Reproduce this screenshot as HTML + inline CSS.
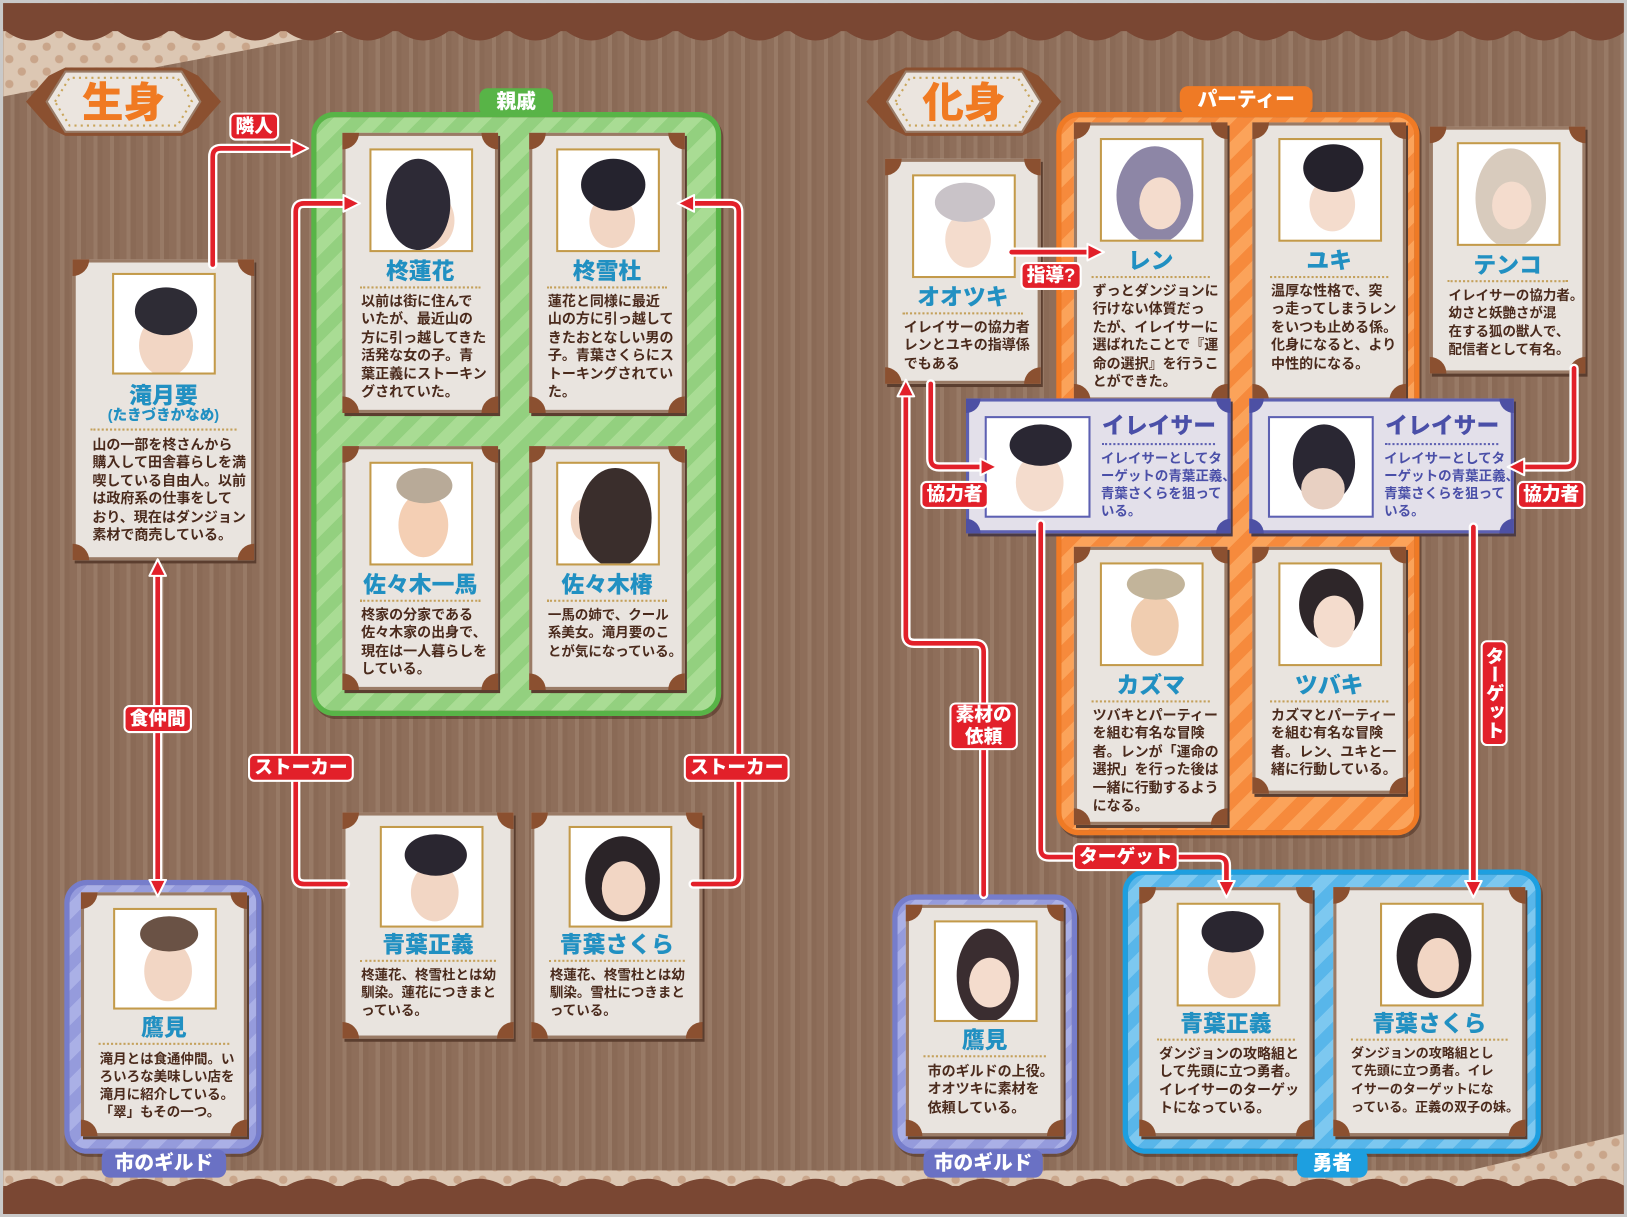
<!DOCTYPE html>
<html><head><meta charset="utf-8">
<style>
html,body{margin:0;padding:0;width:1627px;height:1217px;overflow:hidden;background:#c9c9c9;}
#s{position:absolute;left:0;top:0;width:1568px;height:1173px;transform:scale(1.0376);transform-origin:0 0;
font-family:"Liberation Sans","Noto Sans CJK JP",sans-serif;}
#bg{position:absolute;left:3px;top:3px;right:3px;bottom:3px;overflow:hidden;
background:repeating-linear-gradient(90deg,#8e6e5a 0 7px,#987a66 7px 11px,#8a6a56 11px 16px);}
.abs{position:absolute;}
.grp{position:absolute;border-radius:22px;box-sizing:border-box;box-shadow:2px 3px 0 rgba(70,40,25,.5);}
.g{background:repeating-linear-gradient(135deg,#93d07f 0 12px,#a9dc94 12px 24px);border:5px solid #58b447;}
.o{background:repeating-linear-gradient(135deg,#f68a3c 0 12px,#fba35a 12px 24px);border:5px solid #ef7a25;}
.b{background:repeating-linear-gradient(135deg,#58b6ea 0 12px,#7dc8f0 12px 24px);border:5px solid #1d9fe0;}
.p{background:repeating-linear-gradient(135deg,#959bdc 0 12px,#aab0e6 12px 24px);border:5px solid #767dcb;}
.tab{position:absolute;color:#fff;font-weight:900;font-size:19px;text-align:center;line-height:27px;border-radius:8px;}
.card{position:absolute;box-sizing:border-box;background:#e9e4df;border:3px solid #9a7b66;box-shadow:2px 3px 0 #5b3e2f;}
.card .c{position:absolute;width:16px;height:16px;background:#8b5030;}
.c1{left:-3px;top:-3px;border-radius:0 0 16px 0;}
.c2{right:-3px;top:-3px;border-radius:0 0 0 16px;}
.c3{left:-3px;bottom:-3px;border-radius:0 16px 0 0;}
.c4{right:-3px;bottom:-3px;border-radius:16px 0 0 0;}
.pt{position:absolute;box-sizing:border-box;border:2px solid #c39a4a;background:#fff;overflow:hidden;}
.pt i{position:absolute;display:block;border-radius:50%;}
.nm{position:absolute;left:0;right:0;text-align:center;color:#2190c2;font-weight:900;font-size:22px;line-height:24px;}
.sub{position:absolute;left:0;right:0;text-align:center;color:#2190c2;font-weight:900;font-size:14px;line-height:16px;}
.dl{position:absolute;height:0;border-top:2px dotted #c4a05a;}
.tx{position:absolute;color:#4a2a1c;font-weight:700;font-size:13.5px;line-height:17.4px;white-space:nowrap;}
.er{position:absolute;box-sizing:border-box;background:#e3e0ea;border:3px solid #5d60b2;box-shadow:2px 3px 0 #4b3a45;}
.er .c{position:absolute;width:14px;height:14px;background:#4d50a4;}
.er .nm{color:#4a4fa8;font-size:22px;}
.er .tx{color:#4a4fa8;font-size:13px;}
.lb{position:absolute;background:#e2202a;color:#fff;font-weight:900;font-size:18px;line-height:23px;padding:0 4px;border:2px solid #fff;border-radius:6px;transform:translate(-50%,-50%);white-space:nowrap;}
</style></head><body>
<div id="s"><div id="bg">
<svg class="abs" style="left:0;top:0" width="1562" height="1167">
<defs>
<pattern id="dots" width="24" height="24" patternUnits="userSpaceOnUse"><rect width="24" height="24" fill="#dcc7b3"/><circle cx="6" cy="6" r="4" fill="#c9a58a"/><circle cx="18" cy="18" r="4" fill="#c9a58a"/></pattern>
<marker id="ah" viewBox="0 0 20 20" refX="8" refY="10" markerWidth="20" markerHeight="20" markerUnits="userSpaceOnUse" orient="auto-start-reverse"><path d="M1,2 L17,10 L1,18 Z" fill="#e2202a" stroke="#fff" stroke-width="2" stroke-linejoin="round"/></marker>
</defs>
<polygon points="0,25 340,25 0,90" fill="url(#dots)"/>
<polygon points="1562,1125 1562,1090 1350,1140" fill="url(#dots)"/>
<rect x="0" y="1125" width="1562" height="20" fill="url(#dots)"/>
<rect x="0" y="0" width="1562" height="27" fill="#7a4733"/>
<path d="M0,25 q27,22 54,0 q27,22 54,0 q27,22 54,0 q27,22 54,0 q27,22 54,0 q27,22 54,0 q27,22 54,0 q27,22 54,0 q27,22 54,0 q27,22 54,0 q27,22 54,0 q27,22 54,0 q27,22 54,0 q27,22 54,0 q27,22 54,0 q27,22 54,0 q27,22 54,0 q27,22 54,0 q27,22 54,0 q27,22 54,0 q27,22 54,0 q27,22 54,0 q27,22 54,0 q27,22 54,0 q27,22 54,0 q27,22 54,0 q27,22 54,0 q27,22 54,0 q27,22 54,0 V0 H0Z" fill="#7a4733"/>
<rect x="0" y="1140" width="1562" height="30" fill="#7a4733"/>
<path d="M0,1142 q27,-18 54,0 q27,-18 54,0 q27,-18 54,0 q27,-18 54,0 q27,-18 54,0 q27,-18 54,0 q27,-18 54,0 q27,-18 54,0 q27,-18 54,0 q27,-18 54,0 q27,-18 54,0 q27,-18 54,0 q27,-18 54,0 q27,-18 54,0 q27,-18 54,0 q27,-18 54,0 q27,-18 54,0 q27,-18 54,0 q27,-18 54,0 q27,-18 54,0 q27,-18 54,0 q27,-18 54,0 q27,-18 54,0 q27,-18 54,0 q27,-18 54,0 q27,-18 54,0 q27,-18 54,0 q27,-18 54,0 q27,-18 54,0 V1170 H0Z" fill="#7a4733"/>
<g transform="translate(22,62)">
<polygon points="0,33 22,8 38,0 150,0 166,8 188,33 166,58 150,66 38,66 22,58" fill="#8b5030"/>
<polygon points="20,33 38,4 150,4 168,33 150,62 38,62" fill="#ebe5df" stroke="#9a7b66" stroke-width="2"/>
<polygon points="28,33 42,10 146,10 160,33 146,56 42,56" fill="none" stroke="#c9a55a" stroke-width="2" stroke-dasharray="2 4"/>
<text x="94" y="48" text-anchor="middle" font-size="40" font-weight="900" fill="#f07a22" font-family="Liberation Sans,Noto Sans CJK JP,sans-serif">生身</text>
</g>
<g transform="translate(832,62)">
<polygon points="0,33 22,8 38,0 150,0 166,8 188,33 166,58 150,66 38,66 22,58" fill="#8b5030"/>
<polygon points="20,33 38,4 150,4 168,33 150,62 38,62" fill="#ebe5df" stroke="#9a7b66" stroke-width="2"/>
<polygon points="28,33 42,10 146,10 160,33 146,56 42,56" fill="none" stroke="#c9a55a" stroke-width="2" stroke-dasharray="2 4"/>
<text x="94" y="48" text-anchor="middle" font-size="40" font-weight="900" fill="#f07a22" font-family="Liberation Sans,Noto Sans CJK JP,sans-serif">化身</text>
</g>
</svg>

<div class="grp g" style="left:297px;top:105px;width:395px;height:582px"></div>
<div class="tab" style="left:459px;top:82px;width:71px;background:#58b447">親戚</div>
<div class="grp o" style="left:1015px;top:105px;width:350px;height:697px"></div>
<div class="tab" style="left:1134px;top:80px;width:128px;background:#ef7a25">パーティー</div>
<div class="grp p" style="left:59px;top:845px;width:190px;height:264px"></div>
<div class="tab" style="left:95px;top:1105px;width:120px;background:#6a71c4">市のギルド</div>
<div class="grp p" style="left:857px;top:859px;width:178px;height:250px"></div>
<div class="tab" style="left:887px;top:1105px;width:115px;background:#6a71c4">市のギルド</div>
<div class="grp b" style="left:1079px;top:835px;width:403px;height:274px"></div>
<div class="tab" style="left:1247px;top:1105px;width:68px;background:#1d9fe0">勇者</div>

<div class="card" style="left:67px;top:247px;width:175px;height:290px"><i class="c c1"></i><i class="c c2"></i><i class="c c3"></i><i class="c c4"></i>
<div class="pt" style="left:35px;top:10px;width:100px;height:98px"><i style="left:24px;top:38px;width:52px;height:60px;background:#f2d6c4"></i><i style="left:20px;top:12px;width:60px;height:46px;background:#2e2c35"></i></div>
<div class="nm" style="top:117px">滝月要</div><div class="sub" style="top:139px">(たきづきかなめ)</div>
<div class="dl" style="left:14px;right:14px;top:160px"></div>
<div class="tx" style="left:16px;top:167px">山の一部を柊さんから<br>購入して田舎暮らしを満<br>喫している自由人。以前<br>は政府系の仕事をして<br>おり、現在はダンジョン<br>素材で商売している。</div></div>

<div class="card" style="left:327px;top:125px;width:150px;height:270px"><i class="c c1"></i><i class="c c2"></i><i class="c c3"></i><i class="c c4"></i>
<div class="pt" style="left:23px;top:12px;width:100px;height:100px"><i style="left:35px;top:40px;width:45px;height:55px;background:#f2d6c4"></i><i style="left:14px;top:8px;width:62px;height:88px;background:#2d2a36"></i></div>
<div class="nm" style="top:119px">柊蓮花</div><div class="dl" style="left:14px;right:14px;top:145px"></div>
<div class="tx" style="left:15px;top:151px">以前は街に住んで<br>いたが、最近山の<br>方に引っ越してきた<br>活発な女の子。青<br>葉正義にストーキン<br>グされていた。</div></div>

<div class="card" style="left:507px;top:125px;width:150px;height:270px"><i class="c c1"></i><i class="c c2"></i><i class="c c3"></i><i class="c c4"></i>
<div class="pt" style="left:23px;top:12px;width:100px;height:100px"><i style="left:30px;top:42px;width:44px;height:52px;background:#f2d6c4"></i><i style="left:22px;top:8px;width:62px;height:50px;background:#25232e"></i></div>
<div class="nm" style="top:119px">柊雪杜</div><div class="dl" style="left:14px;right:14px;top:145px"></div>
<div class="tx" style="left:15px;top:151px">蓮花と同様に最近<br>山の方に引っ越して<br>きたおとなしい男の<br>子。青葉さくらにス<br>トーキングされてい<br>た。</div></div>

<div class="card" style="left:327px;top:427px;width:150px;height:235px"><i class="c c1"></i><i class="c c2"></i><i class="c c3"></i><i class="c c4"></i>
<div class="pt" style="left:23px;top:12px;width:100px;height:100px"><i style="left:26px;top:28px;width:48px;height:62px;background:#f4cfb4"></i><i style="left:24px;top:4px;width:54px;height:34px;background:#b8aa98"></i></div>
<div class="nm" style="top:119px">佐々木一馬</div><div class="dl" style="left:14px;right:14px;top:145px"></div>
<div class="tx" style="left:15px;top:151px">柊家の分家である<br>佐々木家の出身で、<br>現在は一人暮らしを<br>している。</div></div>

<div class="card" style="left:507px;top:427px;width:150px;height:235px"><i class="c c1"></i><i class="c c2"></i><i class="c c3"></i><i class="c c4"></i>
<div class="pt" style="left:23px;top:12px;width:100px;height:100px"><i style="left:12px;top:34px;width:24px;height:40px;background:#f2d6c4"></i><i style="left:20px;top:4px;width:70px;height:96px;background:#3a2e2c"></i></div>
<div class="nm" style="top:119px">佐々木椿</div><div class="dl" style="left:14px;right:14px;top:145px"></div>
<div class="tx" style="left:15px;top:151px;font-size:13px">一馬の姉で、クール<br>系美女。滝月要のこ<br>とが気になっている。</div></div>

<div class="card" style="left:327px;top:780px;width:165px;height:218px"><i class="c c1"></i><i class="c c2"></i><i class="c c3"></i><i class="c c4"></i>
<div class="pt" style="left:33px;top:10px;width:100px;height:98px"><i style="left:28px;top:34px;width:46px;height:56px;background:#f2d6c4"></i><i style="left:22px;top:6px;width:60px;height:40px;background:#2a2630"></i></div>
<div class="nm" style="top:113px">青葉正義</div><div class="dl" style="left:14px;right:14px;top:139px"></div>
<div class="tx" style="left:15px;top:145px;font-size:13px;line-height:17px">柊蓮花、柊雪杜とは幼<br>馴染。蓮花につきまと<br>っている。</div></div>

<div class="card" style="left:509px;top:780px;width:165px;height:218px"><i class="c c1"></i><i class="c c2"></i><i class="c c3"></i><i class="c c4"></i>
<div class="pt" style="left:33px;top:10px;width:100px;height:98px"><i style="left:14px;top:8px;width:72px;height:82px;background:#2b2428"></i><i style="left:30px;top:32px;width:42px;height:52px;background:#f2d6c4"></i></div>
<div class="nm" style="top:113px">青葉さくら</div><div class="dl" style="left:14px;right:14px;top:139px"></div>
<div class="tx" style="left:15px;top:145px;font-size:13px;line-height:17px">柊蓮花、柊雪杜とは幼<br>馴染。雪杜につきまと<br>っている。</div></div>

<div class="card" style="left:75px;top:857px;width:160px;height:235px"><i class="c c1"></i><i class="c c2"></i><i class="c c3"></i><i class="c c4"></i>
<div class="pt" style="left:28px;top:12px;width:100px;height:98px"><i style="left:28px;top:30px;width:46px;height:58px;background:#f2d6c4"></i><i style="left:24px;top:6px;width:56px;height:34px;background:#6a5245"></i></div>
<div class="nm" style="top:116px">鷹見</div><div class="dl" style="left:14px;right:14px;top:142px"></div>
<div class="tx" style="left:15px;top:149px;font-size:13px;line-height:17px">滝月とは食通仲間。い<br>ろいろな美味しい店を<br>滝月に紹介している。<br>「翠」もその一つ。</div></div>

<div class="card" style="left:850px;top:150px;width:150px;height:217px"><i class="c c1"></i><i class="c c2"></i><i class="c c3"></i><i class="c c4"></i>
<div class="pt" style="left:23px;top:12px;width:100px;height:100px"><i style="left:30px;top:34px;width:44px;height:54px;background:#f4dccd"></i><i style="left:20px;top:6px;width:58px;height:38px;background:#c9c3c8"></i></div>
<div class="nm" style="top:119px">オオツキ</div><div class="dl" style="left:14px;right:14px;top:145px"></div>
<div class="tx" style="left:15px;top:151px">イレイサーの協力者<br>レンとユキの指導係<br>でもある</div></div>

<div class="card" style="left:1032px;top:115px;width:148px;height:268px"><i class="c c1"></i><i class="c c2"></i><i class="c c3"></i><i class="c c4"></i>
<div class="pt" style="left:22px;top:12px;width:100px;height:100px"><i style="left:14px;top:6px;width:74px;height:94px;background:#8d86a6"></i><i style="left:36px;top:36px;width:40px;height:50px;background:#f4dccd"></i></div>
<div class="nm" style="top:119px">レン</div><div class="dl" style="left:14px;right:14px;top:145px"></div>
<div class="tx" style="left:15px;top:151px">ずっとダンジョンに<br>行けない体質だっ<br>たが、イレイサーに<br>選ばれたことで『運<br>命の選択』を行うこ<br>とができた。</div></div>

<div class="card" style="left:1204px;top:115px;width:148px;height:268px"><i class="c c1"></i><i class="c c2"></i><i class="c c3"></i><i class="c c4"></i>
<div class="pt" style="left:22px;top:12px;width:100px;height:100px"><i style="left:28px;top:36px;width:44px;height:52px;background:#f4dccd"></i><i style="left:22px;top:4px;width:58px;height:46px;background:#25222c"></i></div>
<div class="nm" style="top:119px">ユキ</div><div class="dl" style="left:14px;right:14px;top:145px"></div>
<div class="tx" style="left:15px;top:151px">温厚な性格で、突<br>っ走ってしまうレン<br>をいつも止める係。<br>化身になると、より<br>中性的になる。</div></div>

<div class="card" style="left:1375px;top:119px;width:150px;height:238px"><i class="c c1"></i><i class="c c2"></i><i class="c c3"></i><i class="c c4"></i>
<div class="pt" style="left:23px;top:12px;width:100px;height:100px"><i style="left:16px;top:4px;width:68px;height:96px;background:#d8cbbd"></i><i style="left:32px;top:36px;width:38px;height:46px;background:#f4dccd"></i></div>
<div class="nm" style="top:119px">テンコ</div><div class="dl" style="left:14px;right:14px;top:145px"></div>
<div class="tx" style="left:15px;top:151px;font-size:13px">イレイサーの協力者。<br>幼さと妖艶さが混<br>在する狐の獣人で、<br>配信者として有名。</div></div>

<div class="card" style="left:1032px;top:524px;width:148px;height:268px"><i class="c c1"></i><i class="c c2"></i><i class="c c3"></i><i class="c c4"></i>
<div class="pt" style="left:22px;top:12px;width:100px;height:100px"><i style="left:28px;top:30px;width:46px;height:58px;background:#f0cdb0"></i><i style="left:24px;top:4px;width:56px;height:30px;background:#c2b49a"></i></div>
<div class="nm" style="top:119px">カズマ</div><div class="dl" style="left:14px;right:14px;top:145px"></div>
<div class="tx" style="left:15px;top:151px">ツバキとパーティー<br>を組む有名な冒険<br>者。レンが「運命の<br>選択」を行った後は<br>一緒に行動するよう<br>になる。</div></div>

<div class="card" style="left:1204px;top:524px;width:148px;height:238px"><i class="c c1"></i><i class="c c2"></i><i class="c c3"></i><i class="c c4"></i>
<div class="pt" style="left:22px;top:12px;width:100px;height:100px"><i style="left:18px;top:4px;width:62px;height:70px;background:#2e2629"></i><i style="left:32px;top:30px;width:40px;height:50px;background:#f4dccd"></i></div>
<div class="nm" style="top:119px">ツバキ</div><div class="dl" style="left:14px;right:14px;top:145px"></div>
<div class="tx" style="left:15px;top:151px">カズマとパーティー<br>を組む有名な冒険<br>者。レン、ユキと一<br>緒に行動している。</div></div>

<div class="er" style="left:928px;top:381px;width:255px;height:130px"><i class="c c1"></i><i class="c c2"></i><i class="c c3"></i><i class="c c4"></i>
<div class="pt" style="left:15px;top:14px;width:102px;height:98px;border-color:#5d60b2"><i style="left:28px;top:34px;width:46px;height:56px;background:#f4dccd"></i><i style="left:22px;top:6px;width:60px;height:40px;background:#2a2733"></i></div>
<div class="nm" style="left:125px;right:8px;top:12px">イレイサー</div><div class="dl" style="left:128px;right:12px;top:40px;border-color:#5d60b2"></div>
<div class="tx" style="left:127px;top:46px;line-height:17px">イレイサーとしてタ<br>ーゲットの青葉正義、<br>青葉さくらを狙って<br>いる。</div></div>

<div class="er" style="left:1201px;top:381px;width:255px;height:130px"><i class="c c1"></i><i class="c c2"></i><i class="c c3"></i><i class="c c4"></i>
<div class="pt" style="left:15px;top:14px;width:102px;height:98px;border-color:#5d60b2"><i style="left:22px;top:6px;width:60px;height:76px;background:#2a2733"></i><i style="left:30px;top:48px;width:42px;height:40px;background:#e8d0c2"></i></div>
<div class="nm" style="left:125px;right:8px;top:12px">イレイサー</div><div class="dl" style="left:128px;right:12px;top:40px;border-color:#5d60b2"></div>
<div class="tx" style="left:127px;top:46px;line-height:17px">イレイサーとしてタ<br>ーゲットの青葉正義、<br>青葉さくらを狙って<br>いる。</div></div>

<div class="card" style="left:870px;top:869px;width:152px;height:223px"><i class="c c1"></i><i class="c c2"></i><i class="c c3"></i><i class="c c4"></i>
<div class="pt" style="left:24px;top:12px;width:100px;height:98px"><i style="left:20px;top:6px;width:60px;height:90px;background:#3a2d30"></i><i style="left:32px;top:34px;width:40px;height:48px;background:#f4dccd"></i></div>
<div class="nm" style="top:116px">鷹見</div><div class="dl" style="left:14px;right:14px;top:142px"></div>
<div class="tx" style="left:18px;top:149px">市のギルドの上役。<br>オオツキに素材を<br>依頼している。</div></div>

<div class="card" style="left:1095px;top:852px;width:167px;height:240px"><i class="c c1"></i><i class="c c2"></i><i class="c c3"></i><i class="c c4"></i>
<div class="pt" style="left:33px;top:12px;width:100px;height:100px"><i style="left:28px;top:34px;width:46px;height:56px;background:#f2d6c4"></i><i style="left:22px;top:6px;width:60px;height:40px;background:#2a2630"></i></div>
<div class="nm" style="top:117px">青葉正義</div><div class="dl" style="left:14px;right:14px;top:143px"></div>
<div class="tx" style="left:16px;top:149px">ダンジョンの攻略組と<br>して先頭に立つ勇者。<br>イレイサーのターゲッ<br>トになっている。</div></div>

<div class="card" style="left:1282px;top:852px;width:185px;height:240px"><i class="c c1"></i><i class="c c2"></i><i class="c c3"></i><i class="c c4"></i>
<div class="pt" style="left:42px;top:12px;width:100px;height:100px"><i style="left:14px;top:8px;width:72px;height:82px;background:#2b2428"></i><i style="left:34px;top:32px;width:40px;height:52px;background:#f2d6c4"></i></div>
<div class="nm" style="top:117px">青葉さくら</div><div class="dl" style="left:14px;right:14px;top:143px"></div>
<div class="tx" style="left:14px;top:149px;font-size:12.5px">ダンジョンの攻略組とし<br>て先頭に立つ勇者。イレ<br>イサーのターゲットにな<br>っている。正義の双子の妹。</div></div>

<svg class="abs" style="left:0;top:0" width="1562" height="1167" fill="none" stroke-linejoin="round" stroke-linecap="round">
<g stroke="#fff" stroke-width="9">
<path d="M202,252 V148 Q202,140 210,140 H285"/>
<path d="M330,849 H290 Q282,849 282,841 V201 Q282,193 290,193 H335"/>
<path d="M665,849 H701 Q709,849 709,841 V201 Q709,193 701,193 H659"/>
<path d="M149,545 V852"/>
<path d="M972,240 H1052"/>
<path d="M894,367 V439 Q894,447 902,447 H949"/>
<path d="M1514,352 V439 Q1514,447 1506,447 H1459"/>
<path d="M945,859 V625 Q945,617 937,617 H878 Q870,617 870,609 V372"/>
<path d="M1000,502 V815 Q1000,823 1008,823 H1171 Q1179,823 1179,831 V853"/>
<path d="M1417,505 V853"/>
</g>
<g stroke="#e2202a" stroke-width="4.5">
<path d="M202,252 V148 Q202,140 210,140 H285" marker-end="url(#ah)"/>
<path d="M330,849 H290 Q282,849 282,841 V201 Q282,193 290,193 H335" marker-end="url(#ah)"/>
<path d="M665,849 H701 Q709,849 709,841 V201 Q709,193 701,193 H659" marker-end="url(#ah)"/>
<path d="M149,545 V852" marker-start="url(#ah)" marker-end="url(#ah)"/>
<path d="M972,240 H1052" marker-end="url(#ah)"/>
<path d="M894,367 V439 Q894,447 902,447 H949" marker-end="url(#ah)"/>
<path d="M1514,352 V439 Q1514,447 1506,447 H1459" marker-end="url(#ah)"/>
<path d="M945,859 V625 Q945,617 937,617 H878 Q870,617 870,609 V372" marker-end="url(#ah)"/>
<path d="M1000,502 V815 Q1000,823 1008,823 H1171 Q1179,823 1179,831 V853" marker-end="url(#ah)"/>
<path d="M1417,505 V853" marker-end="url(#ah)"/>
</g>
</svg>

<div class="lb" style="left:242px;top:119px">隣人</div>
<div class="lb" style="left:287px;top:737px">ストーカー</div>
<div class="lb" style="left:707px;top:737px">ストーカー</div>
<div class="lb" style="left:149px;top:690px">食仲間</div>
<div class="lb" style="left:1010px;top:263px">指導?</div>
<div class="lb" style="left:917px;top:474px">協力者</div>
<div class="lb" style="left:1492px;top:474px">協力者</div>
<div class="lb" style="left:945px;top:697px;line-height:21px;text-align:center">素材の<br>依頼</div>
<div class="lb" style="left:1082px;top:823px">ターゲット</div>
<div class="lb" style="left:1437px;top:665px;writing-mode:vertical-rl;padding:4px 0;line-height:22px">ターゲット</div>
</div></div>
</body></html>
